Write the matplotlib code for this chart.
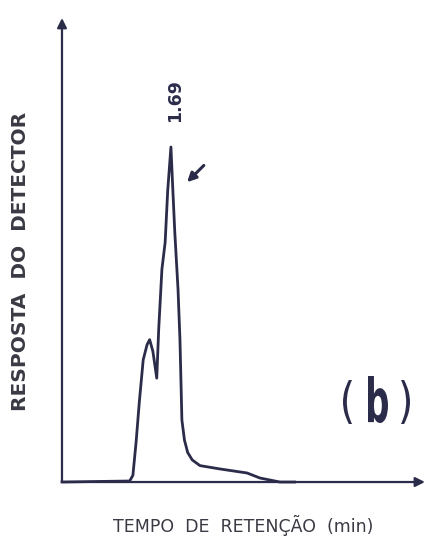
import numpy as np
import matplotlib.pyplot as plt
from matplotlib.textpath import TextPath
from matplotlib.patches import PathPatch
from matplotlib.font_manager import FontProperties
from matplotlib.transforms import Affine2D

# chromatogram trace: retention time (min) vs detector response (% of main peak)
tempo = [0.00, 1.05, 1.10, 1.15, 1.20, 1.26, 1.32, 1.36, 1.41, 1.47, 1.50,
         1.55, 1.60, 1.64, 1.69, 1.72, 1.75, 1.80, 1.83, 1.86, 1.90, 1.95,
         2.02, 2.14, 2.45, 2.87, 3.07, 3.38, 3.61]
resposta = [0.0, 0.3, 2.0, 12.0, 24.0, 36.5, 41.0, 42.5, 39.0, 31.0, 45.5,
            63.5, 71.5, 87.0, 100.0, 87.0, 74.5, 57.5, 42.5, 18.5, 12.5, 8.8,
            6.6, 4.9, 3.9, 2.7, 1.2, 0.0, 0.0]
pico = 1.69

cor = '#2b2b4a'

fig = plt.figure(figsize=(4.29, 5.43), dpi=100)
ax = fig.add_axes([0.1445, 0.1123, 0.846, 0.8545])
ax.set_xlim(0, 5.63)
ax.set_ylim(0, 138.5)
for s in ax.spines.values():
    s.set_visible(False)
ax.set_xticks([])
ax.set_yticks([])

# axes drawn as arrows
ax.annotate('', xy=(1.0, 0), xytext=(0, 0), xycoords='axes fraction',
            arrowprops=dict(arrowstyle='-|>', color=cor, lw=1.6,
                            mutation_scale=14, shrinkA=0, shrinkB=0))
ax.annotate('', xy=(0, 1.0), xytext=(0, 0), xycoords='axes fraction',
            arrowprops=dict(arrowstyle='-|>', color=cor, lw=1.6,
                            mutation_scale=14, shrinkA=0, shrinkB=0))

ax.plot(tempo, resposta, color=cor, lw=2.0, solid_joinstyle='round',
        clip_on=False)

# peak label and pointer
ax.text(pico + 0.06, 114, '%.2f' % pico, rotation=90, ha='center',
        va='center', fontsize=12.5, fontweight='bold', color=cor,
        family='DejaVu Sans')
ax.annotate('', xy=(1.94, 89.5), xytext=(2.20, 94.5),
            arrowprops=dict(arrowstyle='-|>', color=cor, lw=2.2,
                            mutation_scale=13, shrinkA=0, shrinkB=0))


def glifo(ch, weight, x0, x1, y0, y1):
    # glyph squeezed into a pixel box (top-left origin)
    p = TextPath((0, 0), ch, size=1,
                 prop=FontProperties(family='DejaVu Sans', weight=weight))
    e = p.get_extents()
    tr = (Affine2D().translate(-e.x0, -e.y0)
          .scale((x1 - x0) / e.width, (y1 - y0) / e.height)
          .translate(x0, 543 - y1))
    fig.patches.append(PathPatch(tr.transform_path(p), color=cor, lw=0,
                                 transform=None, figure=fig))


# panel tag
glifo('(', 'normal', 343, 352, 380, 424)
glifo('b', 'bold', 368, 388, 376, 423)
glifo(')', 'normal', 401, 410, 380, 424)

fig.text(0.567, 0.033, 'TEMPO  DE  RETENÇÃO  (min)', ha='center', va='center',
         fontsize=12.5, color='#3a3a44', family='DejaVu Sans')
fig.text(0.047, 0.518, 'RESPOSTA  DO  DETECTOR', ha='center', va='center',
         rotation=90, fontsize=14.5, fontweight='bold', color='#3a3a44',
         family='DejaVu Sans')

fig.savefig('out.png', dpi=100, facecolor='white')
